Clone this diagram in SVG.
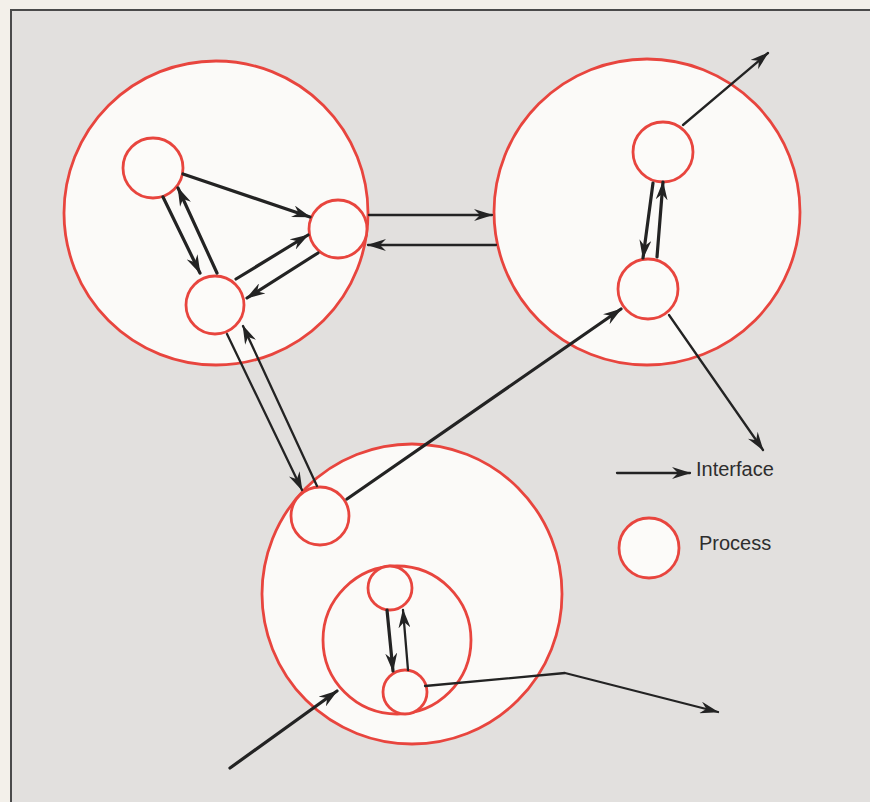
<svg xmlns="http://www.w3.org/2000/svg" width="870" height="802" viewBox="0 0 870 802">
<style>
.big{fill:#fbfaf8;stroke:#e8453e;stroke-width:2.8}
.proc{fill:#fcfbf9;stroke:#e8453e;stroke-width:2.8}
.c{fill:none;stroke:#232323;stroke-width:3.2;stroke-linecap:round;stroke-linejoin:round}
.t{stroke-width:2.3}
.lbl{font-family:"Liberation Sans",Arial,sans-serif;font-size:20px;fill:#2e2e2e}
</style>
<defs>
<marker id="ah" markerUnits="userSpaceOnUse" markerWidth="20" markerHeight="12" refX="18" refY="6" orient="auto" viewBox="0 0 20 12">
<path d="M0,0 L19,6 L0,12 L6,6 z" fill="#232323"/>
</marker>
</defs>
<rect x="0" y="0" width="870" height="802" fill="#f3f0ea"/>
<rect x="11" y="10" width="859" height="792" fill="#e2e0de"/>
<path d="M11,802 L11,10 L870,10" fill="none" stroke="#4a4a4a" stroke-width="2"/>

<g id="cluster-top-left"><circle class="big" cx="216" cy="213" r="152"/></g>
<g id="cluster-top-right"><circle class="big" cx="647" cy="212" r="153"/></g>
<g id="cluster-bottom"><circle class="big" cx="412" cy="594" r="150"/></g>
<g id="cluster-bottom-inner"><circle class="big" cx="397" cy="640" r="74"/></g>

<g id="proc-a"><circle class="proc" cx="153" cy="168" r="30"/></g>
<g id="proc-b"><circle class="proc" cx="338" cy="229" r="29"/></g>
<g id="proc-c"><circle class="proc" cx="215" cy="305" r="29"/></g>
<g id="proc-d"><circle class="proc" cx="663" cy="152" r="30"/></g>
<g id="proc-e"><circle class="proc" cx="648" cy="289" r="30"/></g>
<g id="proc-f"><circle class="proc" cx="320" cy="516" r="29"/></g>
<g id="proc-g"><circle class="proc" cx="390" cy="588" r="22"/></g>
<g id="proc-h"><circle class="proc" cx="405" cy="692" r="22"/></g>

<g id="connectors">
<line class="c" x1="183" y1="174" x2="310" y2="217" marker-end="url(#ah)"/>
<line class="c" x1="163" y1="197" x2="200" y2="273" marker-end="url(#ah)"/>
<line class="c" x1="217" y1="273" x2="178" y2="188" marker-end="url(#ah)"/>
<line class="c" x1="236" y1="279" x2="308" y2="235" marker-end="url(#ah)"/>
<line class="c" x1="318" y1="253" x2="247" y2="298" marker-end="url(#ah)"/>
<line class="c t" x1="369" y1="215" x2="492" y2="215" marker-end="url(#ah)"/>
<line class="c t" x1="496" y1="245" x2="368" y2="245" marker-end="url(#ah)"/>
<line class="c t" x1="227" y1="334" x2="302" y2="490" marker-end="url(#ah)"/>
<line class="c t" x1="317" y1="486" x2="243" y2="326" marker-end="url(#ah)"/>
<line class="c" x1="347" y1="499" x2="621" y2="309" marker-end="url(#ah)"/>
<line class="c t" x1="683" y1="125" x2="768" y2="53" marker-end="url(#ah)"/>
<line class="c" x1="653" y1="183" x2="643" y2="258" marker-end="url(#ah)"/>
<line class="c" x1="657" y1="257" x2="663" y2="182" marker-end="url(#ah)"/>
<line class="c t" x1="669" y1="315" x2="763" y2="450" marker-end="url(#ah)"/>
<line class="c" x1="387" y1="610" x2="393" y2="671" marker-end="url(#ah)"/>
<line class="c t" x1="408" y1="670" x2="403" y2="610" marker-end="url(#ah)"/>
<polyline class="c t" points="425,686 565,673 718,712" marker-end="url(#ah)"/>
<line class="c" x1="230" y1="768" x2="337" y2="691" marker-end="url(#ah)"/>
</g>

<g id="legend">
<line class="c t" x1="617" y1="473" x2="690" y2="473" marker-end="url(#ah)"/>
<text class="lbl" x="696" y="476">Interface</text>
<circle class="proc" cx="649" cy="548" r="30"/>
<text class="lbl" x="699" y="550">Process</text>
</g>
</svg>
